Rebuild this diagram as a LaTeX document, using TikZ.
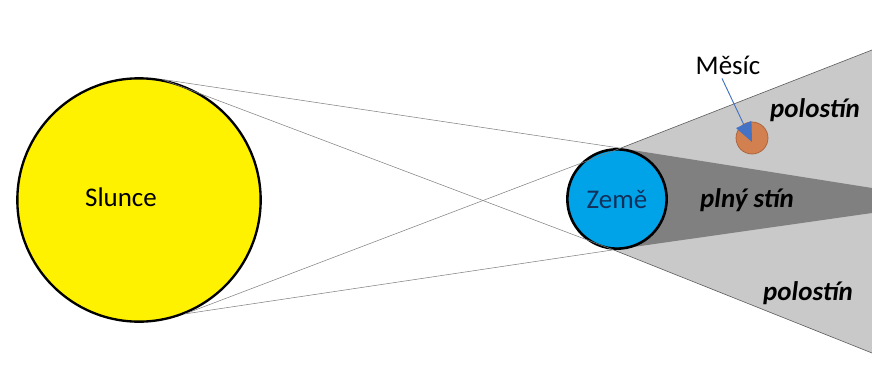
\documentclass[tikz,border=0pt]{standalone}
\usepackage{fontspec}
\setmainfont{Carlito}
\usetikzlibrary{arrows.meta,backgrounds}
\definecolor{sunyellow}{HTML}{FFF200}
\definecolor{earthblue}{HTML}{00A2E8}
\definecolor{earthtext}{HTML}{12305A}
\definecolor{moonfill}{HTML}{D2804F}
\definecolor{moonedge}{HTML}{A8603A}
\definecolor{penumbra}{HTML}{C9C9C9}
\definecolor{umbra}{HTML}{808080}
\definecolor{arrowblue}{HTML}{4472C4}
\tikzset{
    body/.style={circle, draw=black, inner sep=0pt},
    ray/.style={draw=gray, line width=0.45pt},
    edge/.style={draw=black!65, line width=0.5pt},
    shadow/.style={font=\fontsize{23}{27}\selectfont\bfseries\itshape},
    pointer/.style={draw=arrowblue, line width=0.8pt, -{Triangle[length=0.58cm,width=0.5cm]}}
}
\begin{document}
\begin{tikzpicture}[font=\fontsize{23}{27}\selectfont]
            % \draw[help lines] (0,0) grid (26,11);
            \useasboundingbox (0,0) rectangle (26.16,11.31);

            \node (Slunce) [body, line width=2pt, fill=sunyellow, minimum size=7.3cm] at (4.17,5.31) {};
            \node (slunceText) at (3.63,5.40) {Slunce};
            \node (Zeme) [body, line width=2.2pt, fill=earthblue, minimum size=2.98cm] at (18.51,5.34) {\color{earthtext}Země};
            \node (Mesic) [body, draw=moonedge, line width=0.6pt, fill=moonfill, minimum size=0.96cm] at (22.56,7.17) {};

            \coordinate (polTop) at (26.16,9.81);
            \coordinate (polBot) at (26.16,0.72);
            \coordinate (stinTop) at (26.16,5.67);
            \coordinate (stinBot) at (26.16,4.92);

            \begin{pgfonlayer}{background}
            \fill [penumbra] (Zeme.86) -- (polTop) -- (polBot) -- (Zeme.266) -- cycle;
            \fill [umbra] (Zeme.86) -- (stinTop) -- (stinBot) -- (Zeme.266) -- cycle;
            \draw [edge] (Zeme.86) -- (polTop);
            \draw [edge] (Zeme.266) -- (polBot);
            \end{pgfonlayer}

            \draw [ray] (Slunce.79) -- (Zeme.86);
            \draw [ray] (Slunce.79) -- (Zeme.266);
            \draw [ray] (Slunce.-68) -- (Zeme.266);
            \draw [ray] (Slunce.-68) -- (Zeme.86);

            \node (mesicText) at (21.84,9.36) {Měsíc};
            \draw [pointer] ([xshift=-0.18cm]mesicText.south) -- ([yshift=-0.12cm]Mesic.center);

            \node (polostinTop) [shadow] at (24.45,8.01) {polostín};
            \node (plnyStin) [shadow] at (22.41,5.31) {plný stín};
            \node (polostinBot) [shadow] at (24.24,2.52) {polostín};
\end{tikzpicture}
\end{document}
